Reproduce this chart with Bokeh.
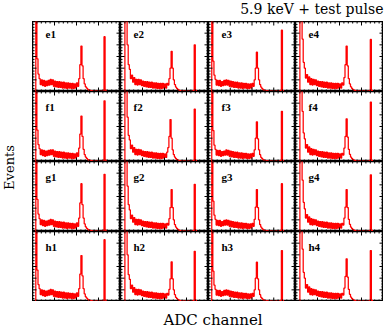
import math
from bokeh.plotting import figure
from bokeh.layouts import row, column
from bokeh.models import Range1d, Label
from bokeh.embed import file_html
from bokeh.resources import INLINE

# ---------------- data ----------------
ROWS = ["e", "f", "g", "h"]
COLS = ["1", "2", "3", "4"]
TITLE = "5.9 keV + test pulse"
XLABEL = "ADC channel"
YLABEL = "Events"

CHAN_LO, CHAN_HI = 0, 1000
BIN_W = 12.5
EVT_LO, EVT_HI = 0, 600
X_MAJOR = [250, 500, 750]
X_MINOR = [50, 100, 150, 200, 300, 350, 400, 450, 550, 600, 650, 700, 800, 850, 900, 950]
Y_MAJOR = [100, 200, 300, 400, 500]
Y_MINOR = [25, 50, 75, 125, 150, 175, 225, 250, 275, 325, 350, 375, 425, 450, 475, 525, 550, 575]

e1 = [0, 0, 0, 900,
      280, 150, 110, 60, 100, 50, 95, 45, 90, 50,
      95, 55, 105, 60, 100, 45, 90, 40, 85, 35,
      85, 35, 80, 30, 80, 30, 75, 25, 75, 30,
      70, 25, 70, 25, 65, 30, 75, 45, 110, 230,
      390, 220, 110, 65, 40, 28, 18, 12, 9, 7,
      5, 4, 4, 3, 3, 2, 3, 2, 2, 3,
      8, 470, 12, 0, 0, 0, 0, 0]
e2 = [0, 0, 0, 0, 900, 750,
      400, 230, 190, 110, 140, 80, 120, 60, 105, 55,
      105, 60, 100, 50, 90, 45, 85, 40, 85, 35,
      80, 35, 80, 30, 75, 30, 75, 25, 70, 25,
      70, 25, 70, 30, 65, 30, 70, 55, 110, 200,
      345, 200, 100, 60, 38, 25, 16, 11, 8, 6,
      5, 4, 3, 3, 2, 3, 2, 2, 3, 2,
      8, 400, 10, 0, 0, 0]
e3 = [0, 0, 0, 900,
      260, 140, 105, 55, 95, 50, 95, 45, 85, 50,
      95, 55, 100, 55, 95, 45, 90, 40, 85, 35,
      80, 35, 80, 30, 75, 30, 75, 25, 70, 30,
      70, 25, 65, 25, 65, 30, 70, 45, 100, 200,
      337, 200, 100, 60, 38, 25, 16, 11, 8, 6,
      5, 4, 3, 3, 2, 3, 2, 2, 3, 2,
      2, 3, 10, 526, 8, 0, 0, 0]
e4 = [0, 0, 0, 0, 900, 800,
      450, 250, 200, 115, 145, 80, 125, 60, 110, 55,
      105, 60, 100, 50, 90, 45, 85, 40, 85, 35,
      80, 35, 80, 30, 75, 30, 75, 25, 70, 25,
      70, 25, 70, 30, 65, 30, 75, 55, 120, 230,
      390, 220, 110, 65, 40, 26, 17, 12, 8, 6,
      5, 4, 4, 3, 3, 2, 3, 2, 2, 3,
      2, 8, 446, 10, 0, 0]
f1 = [0, 0, 0, 900,
      270, 145, 110, 60, 100, 50, 95, 45, 90, 50,
      95, 55, 100, 60, 100, 45, 90, 40, 85, 35,
      85, 35, 80, 30, 80, 30, 75, 25, 75, 30,
      70, 25, 70, 25, 65, 30, 75, 45, 115, 235,
      390, 215, 105, 60, 38, 26, 17, 12, 9, 7,
      5, 4, 3, 3, 3, 2, 3, 2, 2, 2,
      8, 520, 12, 0, 0, 0, 0, 0]
f2 = [0, 0, 0, 0, 900, 700,
      380, 225, 185, 110, 140, 80, 120, 60, 105, 55,
      105, 60, 100, 50, 90, 45, 85, 40, 85, 35,
      80, 35, 80, 30, 75, 30, 75, 25, 70, 25,
      70, 25, 70, 30, 65, 35, 80, 120, 215, 360,
      200, 100, 60, 38, 25, 16, 11, 8, 6, 5,
      4, 4, 3, 3, 2, 3, 2, 2, 3, 2,
      8, 450, 10, 0, 0, 0]
f3 = [0, 0, 0, 900,
      265, 140, 105, 55, 95, 50, 95, 45, 85, 50,
      90, 55, 100, 55, 95, 45, 90, 40, 85, 35,
      80, 35, 80, 30, 75, 30, 75, 25, 70, 30,
      70, 25, 65, 25, 65, 30, 70, 45, 100, 200,
      340, 195, 100, 58, 36, 24, 16, 11, 8, 6,
      5, 4, 3, 3, 2, 3, 2, 2, 3, 2,
      2, 3, 10, 430, 8, 0, 0, 0]
f4 = [0, 0, 0, 0, 900, 780,
      430, 245, 195, 115, 145, 80, 125, 60, 110, 55,
      105, 60, 100, 50, 90, 45, 85, 40, 85, 35,
      80, 35, 80, 30, 75, 30, 75, 25, 70, 25,
      70, 25, 70, 30, 65, 30, 70, 55, 115, 215,
      366, 210, 105, 62, 38, 25, 16, 11, 8, 6,
      5, 4, 3, 3, 2, 3, 2, 2, 3, 2,
      2, 8, 510, 10, 0, 0]
g1 = [0, 0, 0, 900,
      275, 150, 110, 60, 100, 50, 95, 45, 90, 50,
      95, 55, 105, 60, 100, 45, 90, 40, 85, 35,
      85, 35, 80, 30, 80, 30, 75, 25, 75, 30,
      70, 25, 70, 25, 65, 30, 75, 45, 115, 245,
      410, 230, 115, 65, 40, 27, 18, 12, 9, 7,
      5, 4, 4, 3, 3, 2, 3, 2, 2, 3,
      8, 490, 12, 0, 0, 0, 0, 0]
g2 = [0, 0, 0, 0, 900, 720,
      390, 230, 185, 110, 140, 80, 120, 60, 105, 55,
      105, 60, 100, 50, 90, 45, 85, 40, 85, 35,
      80, 35, 80, 30, 75, 30, 75, 25, 70, 25,
      70, 25, 70, 30, 65, 30, 70, 55, 110, 205,
      360, 205, 100, 60, 38, 25, 16, 11, 8, 6,
      5, 4, 3, 3, 2, 3, 2, 2, 3, 2,
      8, 405, 10, 0, 0, 0]
g3 = [0, 0, 0, 900,
      260, 140, 105, 55, 95, 50, 95, 45, 85, 50,
      95, 55, 100, 55, 95, 45, 90, 40, 85, 35,
      80, 35, 80, 30, 75, 30, 75, 25, 70, 30,
      70, 25, 65, 25, 65, 30, 70, 45, 105, 210,
      360, 205, 100, 60, 38, 25, 16, 11, 8, 6,
      5, 4, 3, 3, 2, 3, 2, 2, 3, 2,
      2, 3, 10, 410, 8, 0, 0, 0]
g4 = [0, 0, 0, 0, 900, 790,
      440, 250, 195, 115, 145, 80, 125, 60, 110, 55,
      105, 60, 100, 50, 90, 45, 85, 40, 85, 35,
      80, 35, 80, 30, 75, 30, 75, 25, 70, 25,
      70, 25, 70, 30, 65, 30, 70, 55, 115, 210,
      360, 205, 105, 62, 38, 25, 16, 11, 8, 6,
      5, 4, 3, 3, 2, 3, 2, 2, 3, 2,
      2, 8, 486, 10, 0, 0]
h1 = [0, 0, 0, 900,
      270, 145, 110, 60, 100, 50, 95, 45, 90, 50,
      95, 55, 105, 60, 100, 45, 90, 40, 85, 35,
      85, 35, 80, 30, 80, 30, 75, 25, 75, 30,
      70, 25, 70, 25, 65, 30, 75, 45, 110, 235,
      394, 220, 110, 65, 40, 28, 18, 12, 9, 7,
      5, 4, 4, 3, 3, 2, 3, 2, 2, 3,
      8, 530, 12, 0, 0, 0, 0, 0]
h2 = [0, 0, 0, 0, 900, 740,
      400, 230, 190, 110, 140, 80, 120, 60, 105, 55,
      105, 60, 100, 50, 90, 45, 85, 40, 85, 35,
      80, 35, 80, 30, 75, 30, 75, 25, 70, 25,
      70, 25, 70, 30, 65, 30, 70, 55, 105, 195,
      340, 195, 100, 58, 36, 24, 16, 11, 8, 6,
      5, 4, 3, 3, 2, 3, 2, 2, 3, 2,
      8, 430, 10, 0, 0, 0]
h3 = [0, 0, 0, 900,
      260, 140, 105, 55, 95, 50, 95, 45, 85, 50,
      95, 55, 100, 55, 95, 45, 90, 40, 85, 35,
      80, 35, 80, 30, 75, 30, 75, 25, 70, 30,
      70, 25, 65, 25, 65, 30, 70, 45, 100, 200,
      337, 195, 100, 58, 36, 24, 16, 11, 8, 6,
      5, 4, 3, 3, 2, 3, 2, 2, 3, 2,
      2, 3, 10, 437, 8, 0, 0, 0]
h4 = [0, 0, 0, 0, 900, 800,
      450, 250, 200, 115, 145, 80, 125, 60, 110, 55,
      105, 60, 100, 50, 90, 45, 85, 40, 85, 35,
      80, 35, 80, 30, 75, 30, 75, 25, 70, 25,
      70, 25, 70, 30, 65, 30, 70, 55, 115, 215,
      366, 210, 105, 62, 38, 25, 16, 11, 8, 6,
      5, 4, 3, 3, 2, 3, 2, 2, 3, 2,
      2, 8, 437, 10, 0, 0]

COUNTS = {"e1": e1, "e2": e2, "e3": e3, "e4": e4,
          "f1": f1, "f2": f2, "f3": f3, "f4": f4,
          "g1": g1, "g2": g2, "g3": g3, "g4": g4,
          "h1": h1, "h2": h2, "h3": h3, "h4": h4}

# ---------------- layout / style ----------------
COL_W = [88, 88, 87, 88]
ROW_H = 70
LEFT_W, RIGHT_W = 32, 3
TOP_H, BOTTOM_H = 21, 26
TOTAL_W = LEFT_W + sum(COL_W) + RIGHT_W
RED = "#ff0000"
MAJOR_PX, MINOR_PX = 4, 2
SERIF = "DejaVu Serif"


def bare_fig(w, h, xr, yr):
    p = figure(width=w, height=h, x_range=Range1d(*xr), y_range=Range1d(*yr),
               x_axis_type=None, y_axis_type=None, toolbar_location=None,
               output_backend="svg", min_border=0)
    p.outline_line_color = None
    p.background_fill_color = "white"
    p.border_fill_color = "white"
    return p


def add_ticks(p, w, h):
    sx = (CHAN_HI - CHAN_LO) / w
    sy = (EVT_HI - EVT_LO) / h
    for ticks, length in ((X_MAJOR, MAJOR_PX), (X_MINOR, MINOR_PX)):
        n = len(ticks)
        d = length * sy
        p.segment(x0=ticks, y0=[EVT_LO] * n, x1=ticks, y1=[EVT_LO + d] * n,
                  line_color="black", line_width=1)
        p.segment(x0=ticks, y0=[EVT_HI] * n, x1=ticks, y1=[EVT_HI - d] * n,
                  line_color="black", line_width=1)
    for ticks, length in ((Y_MAJOR, MAJOR_PX), (Y_MINOR, MINOR_PX)):
        n = len(ticks)
        d = length * sx
        p.segment(x0=[CHAN_LO] * n, y0=ticks, x1=[CHAN_LO + d] * n, y1=ticks,
                  line_color="black", line_width=1)
        p.segment(x0=[CHAN_HI] * n, y0=ticks, x1=[CHAN_HI - d] * n, y1=ticks,
                  line_color="black", line_width=1)


def panel(name, w, h):
    p = figure(width=w, height=h, x_range=Range1d(CHAN_LO, CHAN_HI),
               y_range=Range1d(EVT_LO, EVT_HI), x_axis_type=None, y_axis_type=None,
               toolbar_location=None, output_backend="svg", min_border=0)
    p.background_fill_color = "white"
    p.border_fill_color = "white"
    p.outline_line_color = "black"
    p.outline_line_width = 1.5
    counts = COUNTS[name]
    edges = [CHAN_LO + BIN_W * i for i in range(len(counts) + 1)]
    p.step(x=edges, y=list(counts) + [0], mode="after", line_color=RED, line_width=1.25)
    add_ticks(p, w, h)
    sx = (CHAN_HI - CHAN_LO) / w
    sy = (EVT_HI - EVT_LO) / h
    p.add_layout(Label(x=CHAN_LO + 13 * sx, y=EVT_HI - 9 * sy, text=name,
                       text_font="Liberation Serif", text_font_style="bold",
                       text_font_size="11px", text_baseline="top", text_align="left",
                       text_color="black"))
    return p


grid_rows = []
for r in ROWS:
    figs = [panel(r + c, COL_W[j], ROW_H) for j, c in enumerate(COLS)]
    grid_rows.append(row(*figs))
grid = column(*grid_rows)

title_fig = bare_fig(TOTAL_W, TOP_H, (0, TOTAL_W), (0, TOP_H))
title_fig.add_layout(Label(x=LEFT_W + sum(COL_W), y=TOP_H - 8.5, text=TITLE, text_font=SERIF,
                           text_font_size="14px", text_align="right",
                           text_baseline="middle", text_color="black"))

grid_h = ROW_H * len(ROWS)
ylab_fig = bare_fig(LEFT_W, grid_h, (0, LEFT_W), (0, grid_h))
ylab_fig.add_layout(Label(x=1.5, y=grid_h - 146, text=YLABEL, text_font=SERIF,
                          text_font_size="13px", text_align="center", text_baseline="top",
                          angle=math.pi / 2, angle_units="rad", text_color="black"))

right_fig = bare_fig(RIGHT_W, grid_h, (0, 1), (0, 1))

xlab_fig = bare_fig(TOTAL_W, BOTTOM_H, (0, TOTAL_W), (0, BOTTOM_H))
xlab_fig.add_layout(Label(x=LEFT_W + 180.5, y=8, text=XLABEL, text_font=SERIF,
                          text_font_size="15px", text_align="center",
                          text_baseline="middle", text_color="black"))

layout = column(title_fig, row(ylab_fig, grid, right_fig), xlab_fig)

open("out.html", "w").write(file_html(layout, INLINE))
